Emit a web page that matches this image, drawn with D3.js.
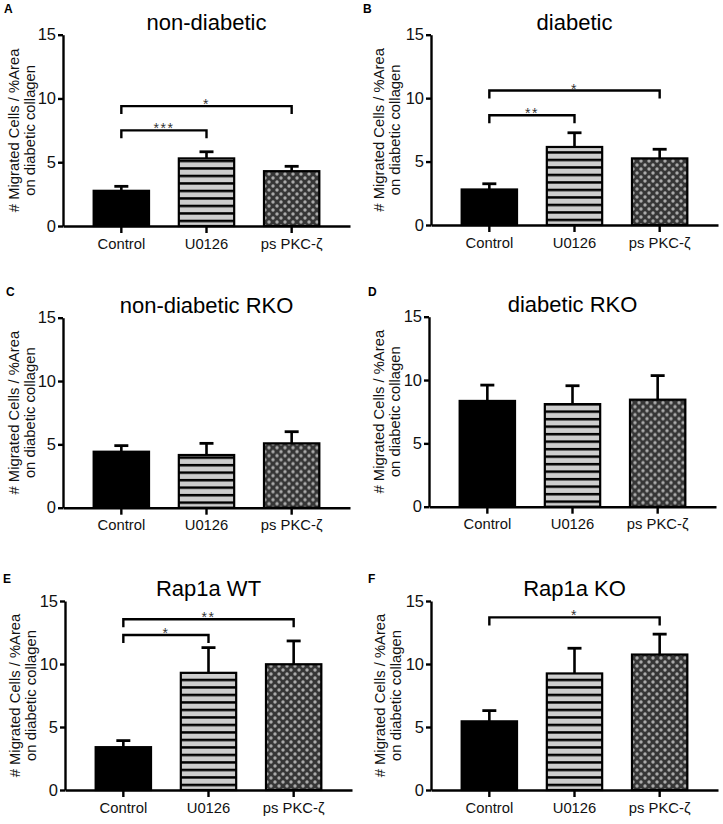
<!DOCTYPE html>
<html>
<head>
<meta charset="utf-8">
<script src="https://cdn.jsdelivr.net/npm/d3@7"></script>
<style>
  html, body { margin: 0; padding: 0; background: #fff; }
  svg { display: block; }
  text { font-family: "Liberation Sans", Arial, Helvetica, sans-serif; }
</style>
</head>
<body>
<svg id="chart" width="723" height="824"></svg>
<script>
// ---------------- DATA ----------------
const categories = ["Control", "U0126", "ps PKC-ζ"];
const yTicks = [0, 5, 10, 15];
const yLabelLines = ["# Migrated Cells / %Area", "on diabetic collagen"];

const panelIds = ["A", "B", "C", "D", "E", "F"];
const panelTitles = ["non-diabetic", "diabetic", "non-diabetic RKO", "diabetic RKO", "Rap1a WT", "Rap1a KO"];

// mean values per panel (Control, U0126, ps PKC-ζ)
const meansA = [2.76, 5.30, 4.30];
const meansB = [2.80, 6.15, 5.25];
const meansC = [4.42, 4.16, 5.08];
const meansD = [8.35, 8.10, 8.45];
const meansE = [3.40, 9.30, 9.98];
const meansF = [5.45, 9.25, 10.75];

// error (SEM, upper bar only)
const semA = [0.35, 0.52, 0.38];
const semB = [0.45, 1.12, 0.72];
const semC = [0.48, 0.92, 0.92];
const semD = [1.25, 1.45, 1.90];
const semE = [0.52, 2.00, 1.85];
const semF = [0.85, 2.00, 1.62];

// significance brackets (from index, to index, height in data units, label)
const bracketsA = [{ from: 0, to: 1, y: 7.5, label: "***" }, { from: 0, to: 2, y: 9.4, label: "*" }];
const bracketsB = [{ from: 0, to: 1, y: 8.65, label: "**" }, { from: 0, to: 2, y: 10.6, label: "*" }];
const bracketsC = [];
const bracketsD = [];
const bracketsE = [{ from: 0, to: 1, y: 12.3, label: "*" }, { from: 0, to: 2, y: 13.55, label: "**" }];
const bracketsF = [{ from: 0, to: 2, y: 13.7, label: "*" }];

const allMeans = [meansA, meansB, meansC, meansD, meansE, meansF];
const allSem = [semA, semB, semC, semD, semE, semF];
const allBrackets = [bracketsA, bracketsB, bracketsC, bracketsD, bracketsE, bracketsF];

// ---------------- LAYOUT ----------------
const layout = [
  { ox: 0,   ax: 63,  y0: 226,   y15: 34.7,  letterX: 4,   letterY: 12.5, labX: 19 },
  { ox: 360, ax: 431, y0: 225,   y15: 34.7,  letterX: 363, letterY: 12.5, labX: 384 },
  { ox: 0,   ax: 63,  y0: 507.7, y15: 317.7, letterX: 6,   letterY: 295.5, labX: 19 },
  { ox: 360, ax: 429, y0: 506.7, y15: 316.7, letterX: 368, letterY: 296, labX: 384 },
  { ox: 0,   ax: 65,  y0: 790,   y15: 601,   letterX: 3,   letterY: 582.5, labX: 20 },
  { ox: 360, ax: 431, y0: 790,   y15: 601,   letterX: 368, letterY: 582.5, labX: 385 },
];
const axisLen = 287;
const FONT = '"Liberation Sans", Arial, Helvetica, sans-serif';

const svg = d3.select("#chart");
const defs = svg.append("defs");

// patterns per panel (anchored to that panel's baseline)
layout.forEach((L, i) => {
  const stripe = defs.append("pattern")
    .attr("id", "stripes" + i)
    .attr("patternUnits", "userSpaceOnUse")
    .attr("width", 10).attr("height", 7.5)
    .attr("patternTransform", `translate(0,${L.y0 + 1.2})`);
  stripe.append("rect").attr("width", 10).attr("height", 7.5).attr("fill", "#cdcdcd");
  stripe.append("rect").attr("y", 0).attr("width", 10).attr("height", 2.5).attr("fill", "#000");

  const dots = defs.append("pattern")
    .attr("id", "dots" + i)
    .attr("patternUnits", "userSpaceOnUse")
    .attr("width", 8).attr("height", 8)
    .attr("patternTransform", `translate(${L.ax + 2},${L.y0})`);
  dots.append("rect").attr("width", 8).attr("height", 8).attr("fill", "#363636");
  [[0, 0], [8, 0], [0, 8], [8, 8], [4, 4]].forEach(([cx, cy]) => {
    dots.append("circle").attr("cx", cx).attr("cy", cy).attr("r", 1.7).attr("fill", "#aaaaaa");
  });
});

const fills = i => ["#000", `url(#stripes${i})`, `url(#dots${i})`];

layout.forEach((L, i) => {
  const g = svg.append("g");
  const means = allMeans[i], sem = allSem[i], brackets = allBrackets[i];

  const x = d3.scaleBand().domain(categories)
    .range([L.ax, L.ax + axisLen]).paddingInner(0.35).paddingOuter(0.36);
  const y = d3.scaleLinear().domain([0, 15]).range([L.y0, L.y15]);

  // error bars (upper)
  const eb = g.append("g");
  categories.forEach((c, k) => {
    const cx = x(c) + x.bandwidth() / 2;
    eb.append("line").attr("x1", cx).attr("x2", cx)
      .attr("y1", y(means[k])).attr("y2", y(means[k] + sem[k]))
      .attr("stroke", "#000").attr("stroke-width", 2.6);
    eb.append("line").attr("x1", cx - 7).attr("x2", cx + 7)
      .attr("y1", y(means[k] + sem[k])).attr("y2", y(means[k] + sem[k]))
      .attr("stroke", "#000").attr("stroke-width", 2.8);
  });

  // bars
  g.append("g").selectAll("rect").data(categories).join("rect")
    .attr("x", c => x(c))
    .attr("y", (c, k) => y(means[k]))
    .attr("width", x.bandwidth())
    .attr("height", (c, k) => y(0) - y(means[k]))
    .attr("fill", (c, k) => fills(i)[k])
    .attr("stroke", "#000").attr("stroke-width", 2.2);

  // y axis
  const yAxis = g.append("g").attr("transform", `translate(${L.ax},0)`)
    .call(d3.axisLeft(y).tickValues(yTicks).tickSize(5).tickSizeOuter(0).tickPadding(2));
  yAxis.select(".domain").attr("stroke-width", 2.4);
  yAxis.selectAll(".tick line").attr("stroke-width", 2.4);
  yAxis.selectAll(".tick text").attr("font-size", 16.5).attr("font-family", FONT).attr("fill", "#111");

  // x axis
  const xAxis = g.append("g").attr("transform", `translate(0,${L.y0})`)
    .call(d3.axisBottom(x).tickSize(7).tickSizeOuter(0).tickPadding(5));
  xAxis.select(".domain").attr("stroke-width", 2.4);
  xAxis.selectAll(".tick line").attr("stroke-width", 2.4);
  xAxis.selectAll(".tick text").attr("font-size", 14.8).attr("font-family", FONT).attr("fill", "#111");

  // brackets
  brackets.forEach(b => {
    const x1 = x(categories[b.from]) + x.bandwidth() / 2;
    const x2 = x(categories[b.to]) + x.bandwidth() / 2;
    const yy = y(b.y);
    g.append("path")
      .attr("d", `M${x1},${yy + 8}V${yy}H${x2}V${yy + 8}`)
      .attr("fill", "none").attr("stroke", "#000").attr("stroke-width", 2.4);
    g.append("text")
      .attr("x", (x1 + x2) / 2).attr("y", yy + 3)
      .attr("text-anchor", "middle")
      .attr("font-size", 14).attr("letter-spacing", "1.5px")
      .attr("fill", "#333")
      .text(b.label);
  });

  // title
  g.append("text")
    .attr("x", x(categories[1]) + x.bandwidth() / 2)
    .attr("y", L.y15 - 5)
    .attr("text-anchor", "middle")
    .attr("font-size", 22).attr("fill", "#000")
    .text(panelTitles[i]);

  // y label (two lines)
  const cy = (L.y0 + L.y15) / 2;
  yLabelLines.forEach((t, j) => {
    g.append("text")
      .attr("transform", `translate(${L.labX + j * 15.5},${cy}) rotate(-90)`)
      .attr("text-anchor", "middle")
      .attr("font-size", 14.8).attr("fill", "#111")
      .text(t);
  });

  // panel letter
  g.append("text")
    .attr("x", L.letterX).attr("y", L.letterY)
    .attr("font-size", 12).attr("font-weight", "bold").attr("fill", "#000")
    .text(panelIds[i]);
});
</script>
</body>
</html>
